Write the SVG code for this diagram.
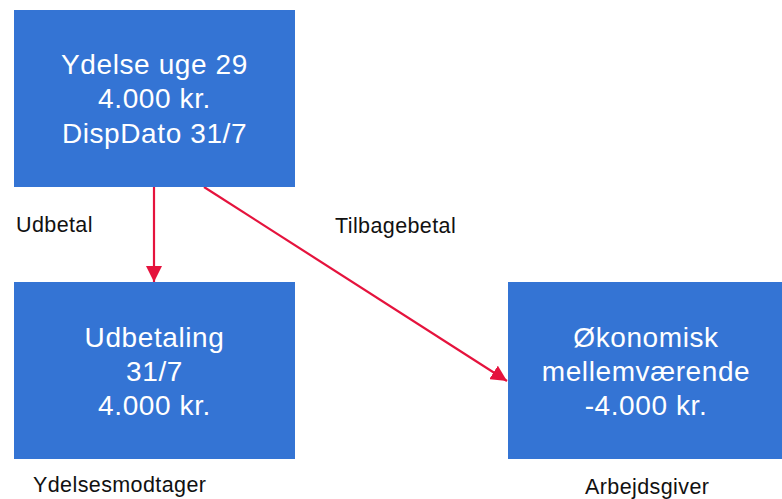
<svg xmlns="http://www.w3.org/2000/svg" width="782" height="499" viewBox="0 0 782 499">
  <style>
    .box { fill: #3474D4; }
    .boxtext { font-family: "Liberation Sans", Arial, sans-serif; font-size: 28px; fill: #ffffff; text-anchor: middle; letter-spacing: 0.6px; }
    .label { font-family: "Liberation Sans", Arial, sans-serif; font-size: 21.5px; fill: #111111; letter-spacing: 0.4px; }
    .edge { stroke: #E5133D; stroke-width: 2.2; fill: none; }
  </style>
  <defs>
    <marker id="arrow" viewBox="0 0 16 16" refX="16" refY="8" markerWidth="16" markerHeight="16" markerUnits="userSpaceOnUse" orient="auto">
      <path d="M0,0 L16,8 L0,16 Z" fill="#E5133D"/>
    </marker>
  </defs>
  <rect width="782" height="499" fill="#ffffff"/>

  <g id="connectors">
    <line class="edge" x1="154" y1="187" x2="154" y2="282" marker-end="url(#arrow)"/>
    <line class="edge" x1="204" y1="187" x2="507" y2="381" marker-end="url(#arrow)"/>
    <text class="label" x="16" y="232">Udbetal</text>
    <text class="label" x="335" y="233">Tilbagebetal</text>
  </g>

  <g id="ydelse">
    <rect class="box" x="14" y="10" width="281" height="177"/>
    <text class="boxtext" x="154.5" y="74">Ydelse uge 29</text>
    <text class="boxtext" x="154.5" y="108">4.000 kr.</text>
    <text class="boxtext" x="154.5" y="143">DispDato 31/7</text>
  </g>

  <g id="udbetaling">
    <rect class="box" x="14" y="282" width="281" height="177"/>
    <text class="boxtext" x="154.5" y="347">Udbetaling</text>
    <text class="boxtext" x="154.5" y="381">31/7</text>
    <text class="boxtext" x="154.5" y="415">4.000 kr.</text>
    <text class="label" x="33" y="492">Ydelsesmodtager</text>
  </g>

  <g id="mellemvaerende">
    <rect class="box" x="508" y="282" width="274" height="177"/>
    <text class="boxtext" x="646" y="347">Økonomisk</text>
    <text class="boxtext" x="646" y="381">mellemværende</text>
    <text class="boxtext" x="646" y="415">-4.000 kr.</text>
    <text class="label" x="585" y="494">Arbejdsgiver</text>
  </g>
</svg>
